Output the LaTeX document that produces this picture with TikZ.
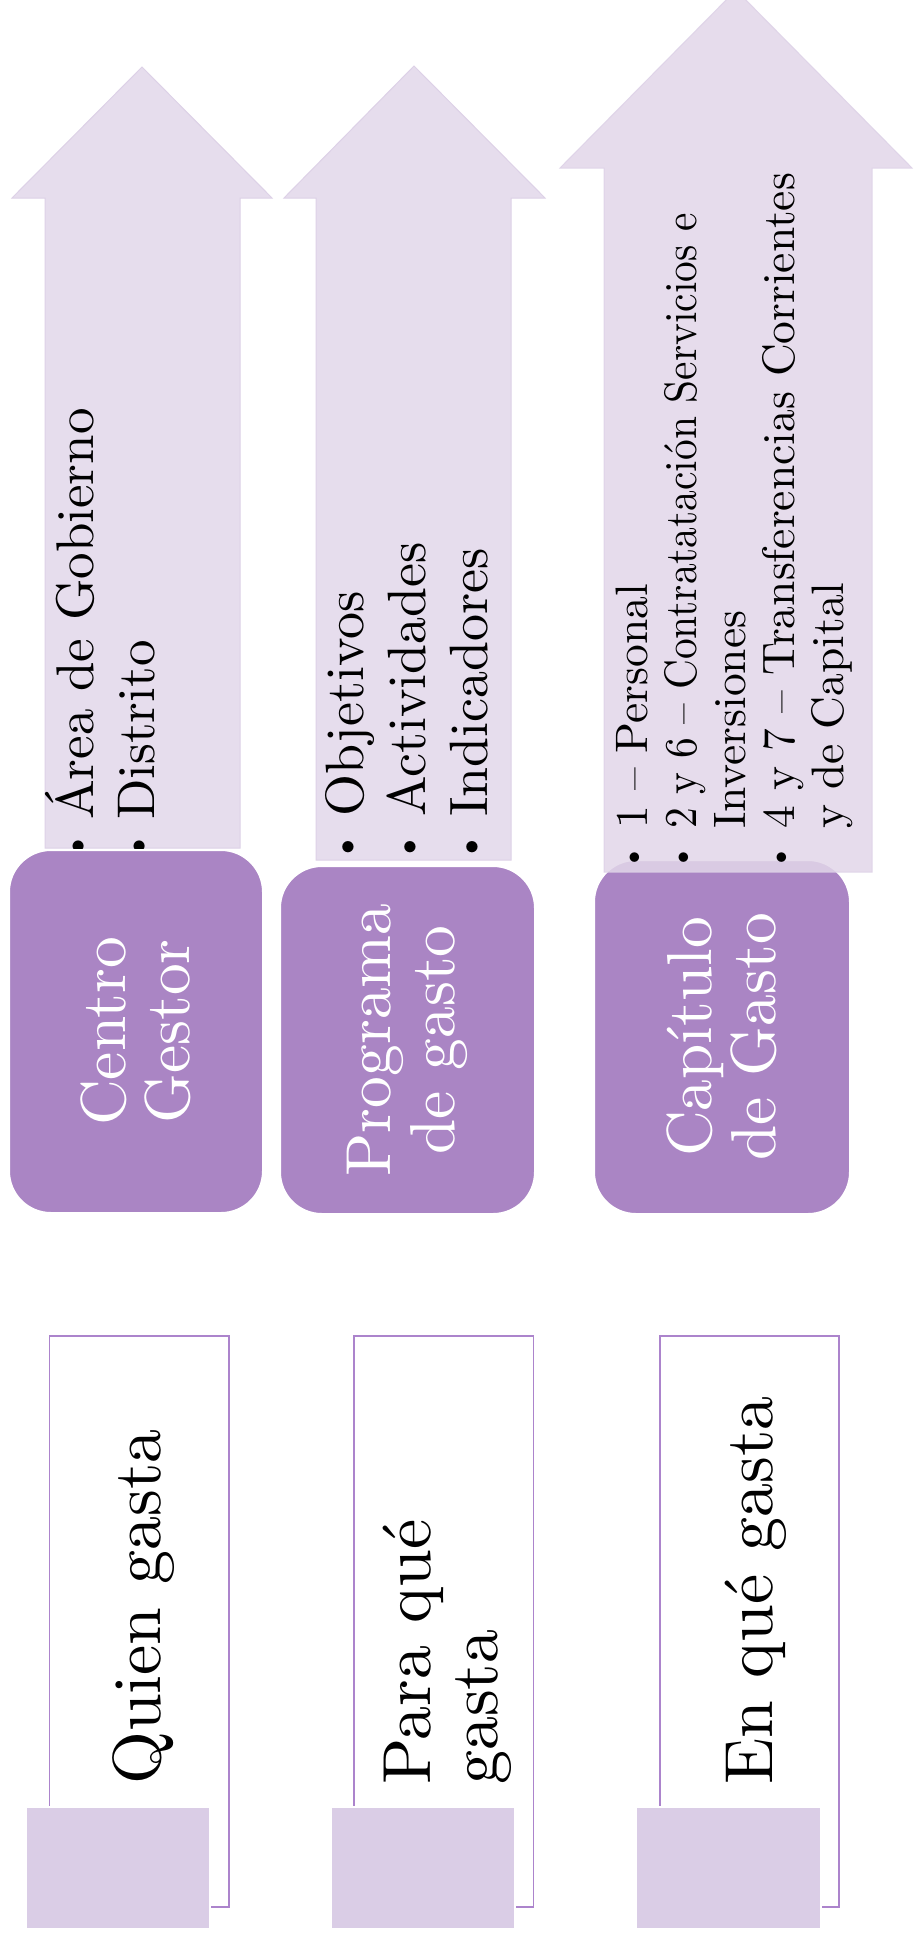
\documentclass[tikz,border=0pt]{standalone}
\usepackage{graphicx}
\usepackage{fontspec}
\setmainfont{lmroman10-regular.otf}
\definecolor{arrowfill}{RGB}{230,221,237}
\definecolor{arrowline}{RGB}{221,209,231}
\definecolor{arrowthree}{RGB}{226,215,233}
\definecolor{boxfill}{RGB}{170,133,196}
\definecolor{sqfill}{RGB}{218,205,230}
\definecolor{rectline}{RGB}{172,132,204}
\newcommand\smallbullet{\raisebox{0.1em}{\scalebox{0.73}{\textbullet}}}
\newcommand\bitem[2]{\hbox{\makebox[0pt]{\smallbullet}\hspace{#1}#2}}
\newcommand\citem[2]{\hbox{\hspace{#1}#2}}
\tikzset{
  bigarrow/.style={fill=arrowfill, draw=arrowline, line width=1pt},
  pbox/.style={rectangle, rounded corners=42pt, fill=boxfill, draw=white, line width=2pt,
    text=white, font=\fontsize{63.5}{64}\selectfont, align=center, rotate=90, inner sep=0pt},
  listtext/.style={rotate=90, anchor=base west, inner sep=0pt, text=black},
  frame/.style={draw=rectline, line width=1.4pt},
  sqbox/.style={fill=sqfill, draw=white, line width=2pt, inner sep=0pt},
  asktext/.style={rotate=90, anchor=base west, inner sep=0pt, text=black, font=\fontsize{68}{67}\selectfont}
}
\begin{document}
\begin{tikzpicture}[x=1pt,y=-1pt]
\useasboundingbox (0,0) rectangle (913,1941);
\fill[white] (0,0) rectangle (913,1941);
% arrows 1 and 2
\filldraw[bigarrow] (45,848) -- (45,198) -- (12,198) -- (142,67) -- (272,198) -- (240,198) -- (240,848) -- cycle;
\filldraw[bigarrow] (316,860) -- (316,198) -- (284,198) -- (414,66) -- (545,198) -- (511,198) -- (511,860) -- cycle;
% lists 1 and 2
\node[listtext, font=\fontsize{53}{61}\selectfont] (list1) at (93,847)
  {\vtop{\lineskiplimit=-100pt\relax\bitem{27pt}{Área de Gobierno}\bitem{27pt}{Distrito}}};
\node[listtext, font=\fontsize{54}{62}\selectfont] (list2) at (363,847)
  {\vtop{\lineskiplimit=-100pt\relax\bitem{30pt}{Objetivos}\bitem{30pt}{Actividades}\bitem{30pt}{Indicadores}}};
% boxes
\node[pbox, minimum width=363pt, minimum height=254pt] (box1) at (136,1031.5) {Centro\\Gestor};
\node[pbox, minimum width=348pt, minimum height=255pt] (box2) at (407.5,1040) {Programa\\de gasto};
\node[pbox, minimum width=354pt, minimum height=256pt] (box3) at (722,1037) {Capítulo\\de Gasto};
% arrow 3 (over box 3)
\filldraw[bigarrow, fill=arrowthree, fill opacity=0.85, draw opacity=0.85] (604,872) -- (604,168) -- (560,168) -- (736,-10) -- (912,168) -- (872,168) -- (872,872) -- cycle;
\node[listtext, font=\fontsize{45.5}{49}\selectfont] (list3) at (647,858)
  {\vtop{\lineskiplimit=-100pt\relax\bitem{29pt}{1 – Personal}\bitem{29pt}{\scalebox{0.91}[1]{2 y 6 – Contratatación Servicios e}}\citem{29pt}{Inversiones}\bitem{29pt}{4 y 7 – Transferencias Corrientes}\citem{29pt}{y de Capital}}};
% frames
\draw[frame] (49.5,1336) rectangle (229,1907);
\draw[frame] (354,1336) rectangle (533.5,1907);
\draw[frame] (660,1336) rectangle (839,1907);
\node[sqbox, minimum width=184pt, minimum height=122pt] (sq1) at (118,1868) {};
\node[sqbox, minimum width=184pt, minimum height=122pt] (sq2) at (423,1868) {};
\node[sqbox, minimum width=185pt, minimum height=122pt] (sq3) at (728.5,1868) {};
\node[asktext] (ask1) at (160,1785) {Quien gasta};
\node[asktext] (ask2) at (430,1785) {\vtop{\lineskiplimit=-100pt\relax\hbox{Para qué}\hbox{gasta}}};
\node[asktext] (ask3) at (772,1785) {En qué gasta};
\end{tikzpicture}
\end{document}
